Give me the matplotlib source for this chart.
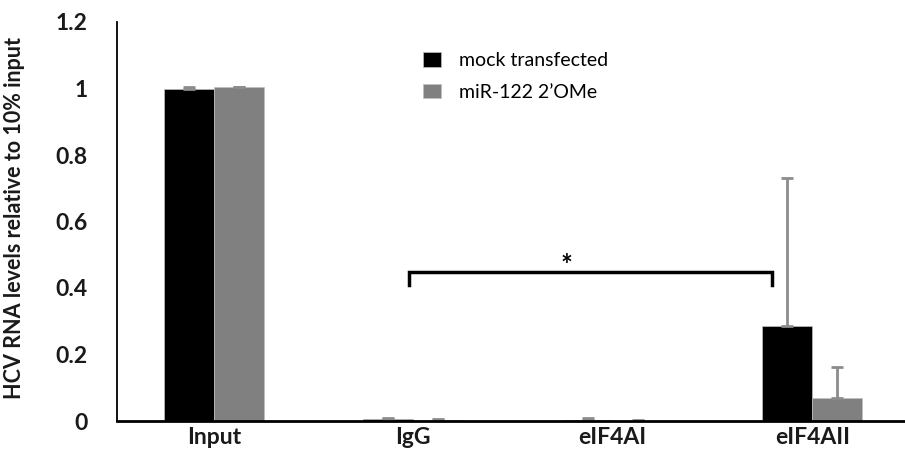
import numpy as np
import matplotlib
matplotlib.use("Agg")
import matplotlib.pyplot as plt

# datos
categorias = ["Input", "IgG", "eIF4AI", "eIF4AII"]
mock = [1.0, 0.005, 0.004, 0.287]
mock_err = [0.004, 0.004, 0.004, 0.445]
mir = [1.005, 0.003, 0.001, 0.069]
mir_err = [0.0, 0.004, 0.001, 0.094]
series = ["mock transfected", "miR-122 2\u2019OMe"]

plt.rcParams["font.family"] = ["Lato", "DejaVu Sans"]

fig = plt.figure(figsize=(9.05, 4.72), dpi=100)
ax = fig.add_axes([117/905, 51/472, 1 - 117/905, 399/472])

x = np.arange(len(categorias))
w = 0.25
errc = "#8c8c8c"
ax.bar(x - w/2, mock, w, color="black", edgecolor="#bfbfbf", linewidth=0.5,
       label=series[0])
ax.bar(x + w/2, mir, w, color="#808080", edgecolor="#bfbfbf", linewidth=0.5,
       label=series[1])
ax.errorbar(x - w/2, mock, yerr=[np.zeros(4), mock_err], fmt="none",
            ecolor=errc, elinewidth=2, capsize=4, capthick=2)
ax.errorbar(x + w/2, mir, yerr=[np.zeros(4), mir_err], fmt="none",
            ecolor=errc, elinewidth=2, capsize=4, capthick=2)

# corchete de significancia IgG vs eIF4AII
xa, xb, yt, yb = 0.98, 2.80, 0.449, 0.41
ax.plot([xa, xa, xb, xb], [yb, yt, yt, yb], color="black", lw=2.5,
        solid_joinstyle="miter")
ax.text(1.77, 0.466, "*", ha="center", va="center", fontsize=20,
        fontweight="bold")

ax.set_xlim(-0.485, 3.465)
ax.set_ylim(0, 1.2)
ax.set_yticks(np.arange(0, 1.21, 0.2))
ax.set_yticklabels(["0", "0.2", "0.4", "0.6", "0.8", "1", "1.2"])
ax.set_xticks(x)
ax.set_xticklabels(categorias)
for lab in ax.get_xticklabels() + ax.get_yticklabels():
    lab.set_fontweight("bold")
    lab.set_fontsize(16.5)
    lab.set_color("#1a1a1a")
ax.tick_params(axis="y", length=0, pad=21)
ax.tick_params(axis="x", length=0, pad=4)
ax.spines["top"].set_visible(False)
ax.spines["right"].set_visible(False)
ax.spines["left"].set_linewidth(1.3)
ax.spines["bottom"].set_linewidth(2)
ax.set_ylabel("HCV RNA levels relative to 10% input", fontsize=15.5,
              fontweight="bold", color="#1a1a1a")
ax.yaxis.set_label_coords(-92/788, 0.51)

ax.legend(loc="upper left", bbox_to_anchor=(0.366, 0.968), frameon=False,
          fontsize=14, handlelength=0.92, handleheight=0.75,
          handletextpad=0.95, labelspacing=0.75)

fig.savefig("out.png", dpi=100)
